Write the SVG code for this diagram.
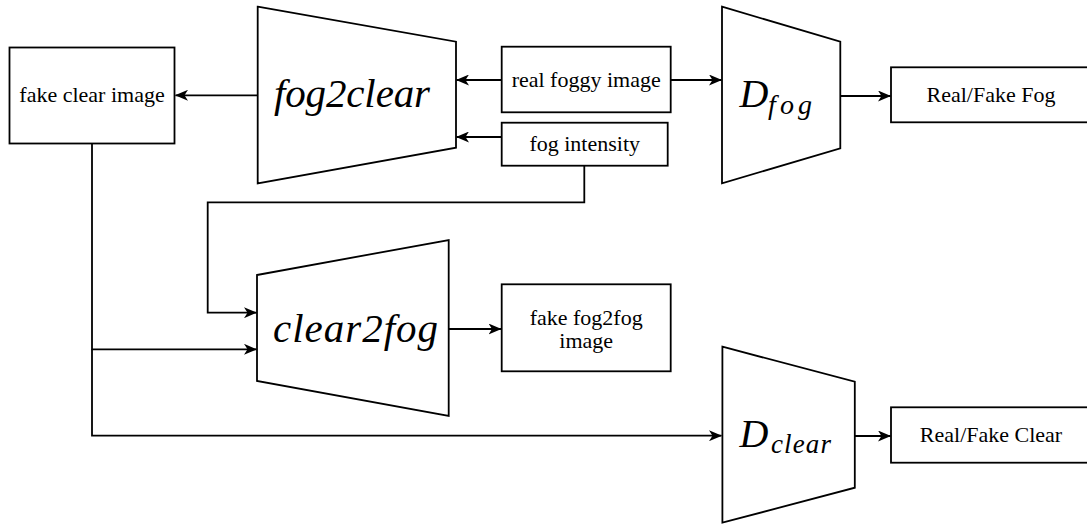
<svg xmlns="http://www.w3.org/2000/svg" width="1087" height="524" viewBox="0 0 1087 524">
  <style>
    .shape { fill: #ffffff; stroke: #000000; stroke-width: 1.8; }
    .wire { fill: none; stroke: #000000; stroke-width: 1.8; }
    .label { font-family: "Liberation Serif", "Times New Roman", serif; font-size: 22px; fill: #000000; text-anchor: middle; }
    .math { font-family: "Liberation Serif", "Times New Roman", serif; font-style: italic; fill: #000000; }
  </style>
  <defs>
    <marker id="arrow" viewBox="0 0 13 11" refX="12.5" refY="5.5" markerWidth="13" markerHeight="11" markerUnits="userSpaceOnUse" orient="auto">
      <path d="M0,0 L13,5.5 L0,11 L3.5,5.5 Z" fill="#000000"/>
    </marker>
  </defs>

  <!-- connectors -->
  <g id="connectors">
    <path class="wire" d="M257.7,95.3 H175.5" marker-end="url(#arrow)"/>
    <path class="wire" d="M501.7,80 H456.5" marker-end="url(#arrow)"/>
    <path class="wire" d="M501.7,137 H456.5" marker-end="url(#arrow)"/>
    <path class="wire" d="M670.7,80 H721.5" marker-end="url(#arrow)"/>
    <path class="wire" d="M840.3,96 H890.5" marker-end="url(#arrow)"/>
    <path class="wire" d="M584.3,165.7 V202.3 H207.7 V312.7 H256.5" marker-end="url(#arrow)"/>
    <path class="wire" d="M92,143.5 V349.3 H256.5" marker-end="url(#arrow)"/>
    <path class="wire" d="M92,349.3 V435.7 H721.5" marker-end="url(#arrow)"/>
    <path class="wire" d="M448.7,329 H501" marker-end="url(#arrow)"/>
    <path class="wire" d="M854.8,436 H890.5" marker-end="url(#arrow)"/>
  </g>

  <!-- nodes -->
  <g id="fake-clear-image">
    <rect class="shape" x="9.5" y="47.5" width="165" height="96"/>
    <text class="label" x="92" y="102">fake clear image</text>
  </g>

  <g id="fog2clear">
    <polygon class="shape" points="257.7,6.7 456,41.7 456,147.7 257.7,183.3"/>
    <text class="math" x="274" y="107" font-size="41" textLength="156" lengthAdjust="spacing">fog2clear</text>
  </g>

  <g id="real-foggy-image">
    <rect class="shape" x="501.7" y="46.7" width="169" height="65.6"/>
    <text class="label" x="586.2" y="87">real foggy image</text>
  </g>

  <g id="fog-intensity">
    <rect class="shape" x="501.7" y="122.7" width="166" height="43"/>
    <text class="label" x="584.7" y="151">fog intensity</text>
  </g>

  <g id="d-fog">
    <polygon class="shape" points="722,6.7 840.3,41.7 840.3,148.3 722,183.3"/>
    <text class="math" x="739.5" y="106.7" font-size="40">D</text>
    <text class="math" x="768" y="114" font-size="28" textLength="44" lengthAdjust="spacing">fog</text>
  </g>

  <g id="real-fake-fog">
    <rect class="shape" x="891" y="67.3" width="200" height="55"/>
    <text class="label" x="991" y="102">Real/Fake Fog</text>
  </g>

  <g id="clear2fog">
    <polygon class="shape" points="257,275 448.7,240 448.7,416 257,381"/>
    <text class="math" x="273" y="341.7" font-size="41" textLength="165" lengthAdjust="spacing">clear2fog</text>
  </g>

  <g id="fake-fog2fog-image">
    <rect class="shape" x="501.7" y="284.3" width="169" height="87"/>
    <text class="label" x="586.2" y="324.5">fake fog2fog</text>
    <text class="label" x="586.2" y="347.5">image</text>
  </g>

  <g id="d-clear">
    <polygon class="shape" points="722.4,346.7 854.8,381.7 854.8,487.7 722.4,522.7"/>
    <text class="math" x="739.5" y="447.3" font-size="40">D</text>
    <text class="math" x="771" y="452.7" font-size="27" textLength="60" lengthAdjust="spacing">clear</text>
  </g>

  <g id="real-fake-clear">
    <rect class="shape" x="891" y="407.3" width="200" height="55.4"/>
    <text class="label" x="991" y="442">Real/Fake Clear</text>
  </g>
</svg>
